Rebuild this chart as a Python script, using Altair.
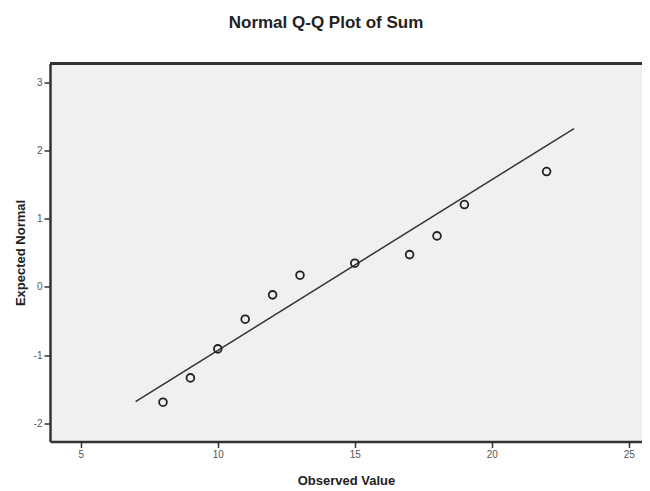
import altair as alt
import pandas as pd

# Observed values and their expected normal scores
observed = [8, 9, 10, 11, 12, 13, 15, 17, 18, 19, 22]
expected = [-1.693, -1.336, -0.91, -0.474, -0.117, 0.172, 0.348, 0.474, 0.749, 1.209, 1.693]

# Reference line endpoints
line_x = [7, 23]
line_y = [-1.684, 2.325]

x_ticks = [5, 10, 15, 20, 25]
y_ticks = [-2, -1, 0, 1, 2, 3]

pts = pd.DataFrame({"Observed Value": observed, "Expected Normal": expected})
ln = pd.DataFrame({"Observed Value": line_x, "Expected Normal": line_y})

W, H = 592, 378
xdom = [3.876, 3.876 + W / 27.4]
ydom = [-2.27, 3.28]

xscale = alt.Scale(domain=xdom, nice=False, zero=False)
yscale = alt.Scale(domain=ydom, nice=False, zero=False)

label_expr = "datum.value < 0 ? '-' + abs(datum.value) : '' + datum.value"

axis_common = dict(
    domainColor="#333333", domainWidth=2.5, tickColor="#333333", tickWidth=1.5,
    tickSize=6, labelColor="#555555", labelFont="Liberation Sans", labelFontSize=10,
    titleFont="Liberation Sans", titleFontSize=13, titleFontWeight="bold",
    titleColor="#222222", grid=False, labelPadding=2, labelExpr=label_expr,
)

xaxis = alt.Axis(values=x_ticks, titlePadding=15, **axis_common)
yaxis = alt.Axis(values=y_ticks, titlePadding=6, **axis_common)

points = alt.Chart(pts).mark_point(
    shape="circle", filled=False, size=60, strokeWidth=1.8, color="#222222", opacity=1
).encode(
    x=alt.X("Observed Value:Q", scale=xscale, axis=xaxis),
    y=alt.Y("Expected Normal:Q", scale=yscale, axis=yaxis),
)

line = alt.Chart(ln).mark_line(color="#333333", strokeWidth=1.5).encode(
    x=alt.X("Observed Value:Q", scale=xscale),
    y=alt.Y("Expected Normal:Q", scale=yscale),
)

top = alt.Chart(pts).mark_rule(color="#333333", strokeWidth=2.5).encode(
    x=alt.value(0), x2=alt.value(W), y=alt.value(0)
)

chart = alt.layer(line, points, top).properties(
    width=W, height=H,
    autosize=alt.AutoSizeParams(type="none"),
    padding={"left": 42, "top": 55.5, "right": 0, "bottom": 50},
    title=alt.TitleParams(
        "Normal Q-Q Plot of Sum", font="Liberation Sans", fontSize=17,
        fontWeight="bold", color="#222222", anchor="middle", dx=-20, offset=30,
    ),
).configure_view(fill="#f0f0f0", stroke=None)

chart.save("out.html", embed_options={"renderer": "svg", "actions": False})
